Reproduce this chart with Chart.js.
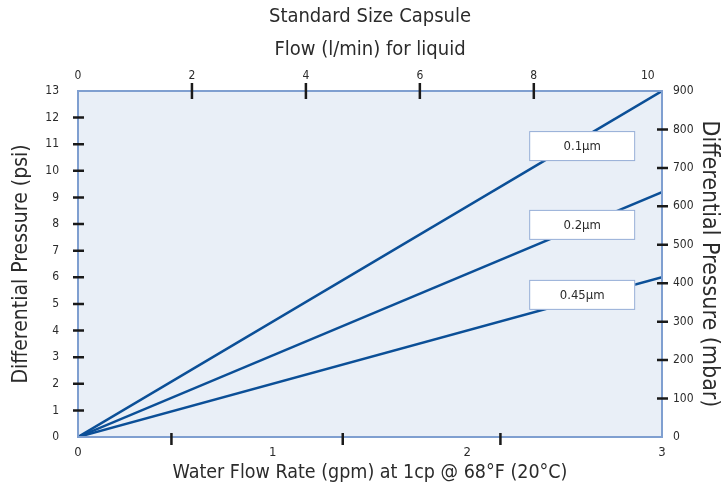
<!DOCTYPE html>
<html>
<head>
<meta charset="utf-8">
<script src="https://cdn.jsdelivr.net/npm/chart.js@4"></script>
<style>
  html, body { margin: 0; padding: 0; background: #fff; }
</style>
</head>
<body>
<canvas id="flowChart" width="723" height="493"></canvas>
<script>
// flow (gpm) at the two ends of each straight line
let flowGpm = [0, 3]
// differential pressure (psi) for each filter rating
let series01 = [0, 13.0]
let series02 = [0, 9.2]
let series045 = [0, 6.0]
let seriesNames = ['0.1µm', '0.2µm', '0.45µm']
// where the name boxes sit, in data units (gpm, psi)
let boxX = [2.59, 2.59, 2.59]
let boxY = [10.93, 7.97, 5.34]
// tick marks that do not line up with labels
let bottomMarks = [0.48, 1.36, 2.17]
let topMarks = [2, 4, 6, 8]
let leftMarks = [1, 2, 3, 4, 5, 6, 7, 8, 9, 10, 11, 12]
let rightMarks = [100, 200, 300, 400, 500, 600, 700, 800]

const FONT = "'Liberation Sans Narrow', 'DejaVu Sans Condensed', 'Liberation Sans', sans-serif"
const TEXT = '#2b2b2b'
const LINE = '#0b4f97'

grafico_presion()

function puntos(ys){
    return flowGpm.map((x, i) => ({x: x, y: ys[i]}))
}

function grafico_presion(){
    let fondo = {
        id: 'fondo',
        beforeDraw(chart){
            let a = chart.chartArea, ctx = chart.ctx
            ctx.save()
            ctx.fillStyle = '#e9eff7'
            ctx.fillRect(a.left, a.top, a.right - a.left, a.bottom - a.top)
            ctx.restore()
        },
        afterDraw(chart){
            let a = chart.chartArea, ctx = chart.ctx, s = chart.scales
            ctx.save()
            ctx.strokeStyle = '#7f9fd0'
            ctx.lineWidth = 2
            ctx.strokeRect(a.left, a.top, a.right - a.left, a.bottom - a.top)
            ctx.strokeStyle = '#1a1a1a'
            ctx.lineWidth = 2.5
            ctx.beginPath()
            leftMarks.forEach(v => { let y = s.y.getPixelForValue(v); ctx.moveTo(a.left - 5, y); ctx.lineTo(a.left + 6, y) })
            rightMarks.forEach(v => { let y = s.y2.getPixelForValue(v); ctx.moveTo(a.right - 5, y); ctx.lineTo(a.right + 6, y) })
            topMarks.forEach(v => { let x = s.x2.getPixelForValue(v); ctx.moveTo(x, a.top - 8); ctx.lineTo(x, a.top + 8) })
            bottomMarks.forEach(v => { let x = s.x.getPixelForValue(v); ctx.moveTo(x, a.bottom - 4); ctx.lineTo(x, a.bottom + 8) })
            ctx.stroke()
            // name boxes
            ctx.font = '13px ' + FONT
            ctx.textAlign = 'center'
            ctx.textBaseline = 'middle'
            seriesNames.forEach((n, i) => {
                let cx = s.x.getPixelForValue(boxX[i]), cy = s.y.getPixelForValue(boxY[i])
                ctx.fillStyle = '#ffffff'
                ctx.fillRect(cx - 53, cy - 15, 106, 30)
                ctx.strokeStyle = '#93acd6'
                ctx.lineWidth = 1
                ctx.strokeRect(cx - 52.5, cy - 14.5, 105, 29)
                ctx.fillStyle = TEXT
                ctx.fillText(n, cx, cy + 1)
            })
            ctx.restore()
        }
    }

    let ctx = document.getElementById('flowChart').getContext('2d')
    let lineas = [series01, series02, series045]
    let chart = new Chart(ctx, {
        type: 'line',
        data: {
            datasets: lineas.map((ys, i) => ({
                label: seriesNames[i],
                data: puntos(ys),
                borderColor: LINE,
                borderWidth: 2.5,
                pointRadius: 0,
                fill: false,
                tension: 0,
                xAxisID: 'x',
                yAxisID: 'y'
            }))
        },
        options: {
            responsive: false,
            animation: false,
            layout: { padding: 0 },
            plugins: {
                legend: { display: false },
                tooltip: { enabled: false },
                title: {
                    display: true,
                    fullSize: false,
                    text: 'Standard Size Capsule',
                    color: TEXT,
                    font: { family: FONT, size: 20, weight: 'normal' },
                    padding: { top: 5, bottom: 4 }
                },
                subtitle: {
                    display: true,
                    fullSize: false,
                    text: 'Flow (l/min) for liquid',
                    color: TEXT,
                    font: { family: FONT, size: 20, weight: 'normal' },
                    padding: { top: 5, bottom: 0 }
                }
            },
            scales: {
                x: {
                    type: 'linear', position: 'bottom', min: 0, max: 3,
                    grid: { display: false, drawTicks: false },
                    border: { display: false },
                    ticks: { stepSize: 1, padding: 8, color: TEXT, font: { family: FONT, size: 13 } },
                    title: { display: true, text: 'Water Flow Rate (gpm) at 1cp @ 68°F (20°C)', color: TEXT,
                             font: { family: FONT, size: 19.5 }, padding: { top: 0, bottom: 8 } },
                    afterFit(s){ s.height = 56 }
                },
                x2: {
                    type: 'linear', position: 'top', min: 0, max: 10.25,
                    grid: { display: false, drawTicks: false },
                    border: { display: false },
                    afterBuildTicks(s){ s.ticks = [0, 2, 4, 6, 8, 10].map(v => ({value: v})) },
                    ticks: { padding: 8, color: TEXT, font: { family: FONT, size: 12 } },
                    afterFit(s){ s.height = 29 }
                },
                y: {
                    type: 'linear', position: 'left', min: 0, max: 13,
                    grid: { display: false, drawTicks: false },
                    border: { display: false },
                    ticks: { stepSize: 1, padding: 19, color: TEXT, font: { family: FONT, size: 12 } },
                    title: { display: true, text: 'Differential Pressure (psi)', color: TEXT,
                             font: { family: FONT, size: 21 }, padding: { top: 9, bottom: 0 } },
                    afterFit(s){ s.width = 78 }
                },
                y2: {
                    type: 'linear', position: 'right', min: 0, max: 900,
                    grid: { display: false, drawTicks: false },
                    border: { display: false },
                    ticks: { stepSize: 100, padding: 11, color: TEXT, font: { family: FONT, size: 12 } },
                    title: { display: true, text: 'Differential Pressure (mbar)', color: TEXT,
                             font: { family: FONT, size: 23 }, padding: { top: 0, bottom: 0 } },
                    afterFit(s){ s.width = 61 }
                }
            }
        },
        plugins: [fondo]
    })
}
</script>
</body>
</html>
